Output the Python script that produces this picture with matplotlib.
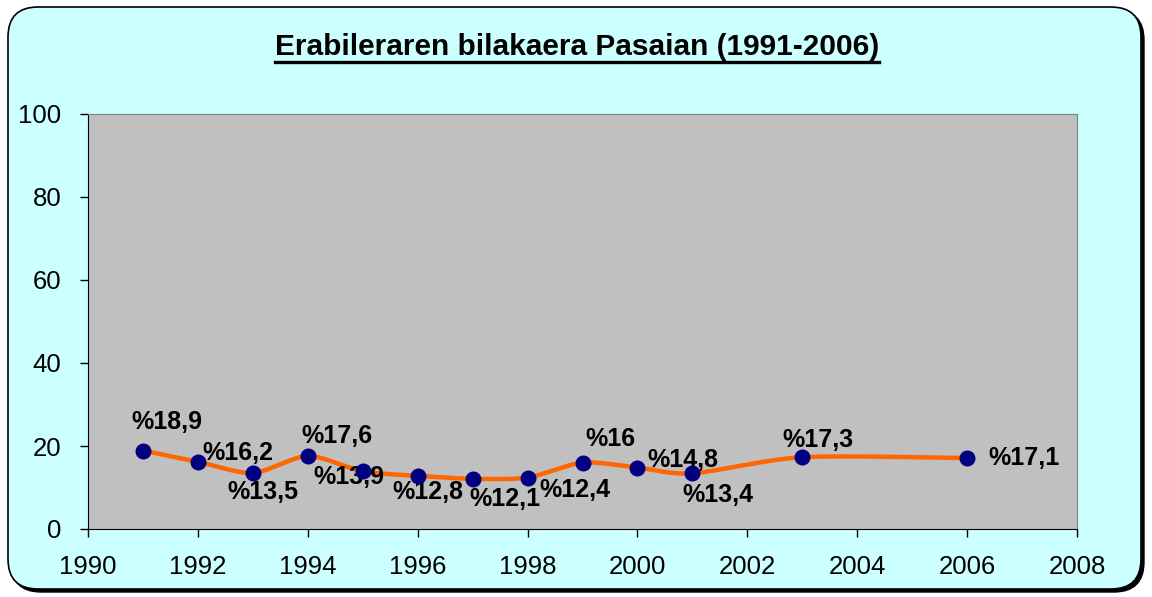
import numpy as np
import matplotlib
matplotlib.use('Agg')
import matplotlib.pyplot as plt
from matplotlib.patches import FancyBboxPatch
from matplotlib.lines import Line2D

plt.rcParams['font.family'] = ['Liberation Sans', 'DejaVu Sans']

years = [1991, 1992, 1993, 1994, 1995, 1996, 1997, 1998, 1999, 2000, 2001, 2003, 2006]
values = [18.9, 16.2, 13.5, 17.6, 13.9, 12.8, 12.1, 12.4, 16, 14.8, 13.4, 17.3, 17.1]
labels = ['%18,9', '%16,2', '%13,5', '%17,6', '%13,9', '%12,8', '%12,1',
          '%12,4', '%16', '%14,8', '%13,4', '%17,3', '%17,1']
title = 'Erabileraren bilakaera Pasaian (1991-2006)'

# label offsets in pixels (dx, dy), dy positive = up
offsets = [(24, 29), (40, 9), (10, -19), (29, 20), (-14, -6), (10, -16), (32, -20),
           (47, -12), (28, 24), (45, 8), (25, -22), (16, 17), (57, 0)]


def smooth(x, y, n=20, k=0.8):
    # cardinal spline through the points, in roughly screen-scaled space
    sc = 4.15 / 54.9
    P = np.column_stack([np.asarray(x, float), np.asarray(y, float) * sc])
    P = np.vstack([P[0], P, P[-1]])
    out = []
    t = np.linspace(0, 1, n)[:, None]
    h00 = 2 * t**3 - 3 * t**2 + 1
    h10 = t**3 - 2 * t**2 + t
    h01 = -2 * t**3 + 3 * t**2
    h11 = t**3 - t**2
    for i in range(1, len(P) - 2):
        p0, p1, p2, p3 = P[i - 1], P[i], P[i + 1], P[i + 2]
        m1 = 0.5 * k * (p2 - p0)
        m2 = 0.5 * k * (p3 - p1)
        out.append(h00 * p1 + h10 * m1 + h01 * p2 + h11 * m2)
    c = np.vstack(out)
    return c[:, 0], c[:, 1] / sc


fig = plt.figure(figsize=(11.52, 5.97), dpi=100)
fig.patch.set_facecolor('white')

# rounded chart area with shadow
W, H = 1152, 597
shadow = FancyBboxPatch((11, 5), 1133, 582, boxstyle='round,pad=0,rounding_size=30',
                        transform=None, facecolor='black', edgecolor='black', zorder=0)
box = FancyBboxPatch((8, 8), 1133, 582, boxstyle='round,pad=0,rounding_size=30',
                     transform=None, facecolor='#CCFFFF', edgecolor='black', linewidth=1.2, zorder=1)
fig.patches.extend([shadow, box])

ax = fig.add_axes([88 / W, 1 - 529 / H, (1077 - 88) / W, (529 - 114) / H])
ax.set_facecolor('#C0C0C0')
ax.set_zorder(2)

xs, ys = smooth(years, values)
ax.plot(xs, ys, color='#FF6600', linewidth=3.2, zorder=3, solid_capstyle='round')
ax.plot(years, values, linestyle='none', marker='o', markersize=10.5,
        markerfacecolor='#000080', markeredgecolor='#000080', zorder=5)

for x, y, lab, (dx, dy) in zip(years, values, labels, offsets):
    ax.annotate(lab, (x, y), xytext=(dx, dy), textcoords='offset pixels',
                ha='center', va='center', fontsize=18, fontweight='bold', color='black', zorder=4)

ax.set_xlim(1990, 2008)
ax.set_ylim(0, 100)
ax.set_xticks(range(1990, 2009, 2))
ax.set_yticks(range(0, 101, 20))
ax.tick_params(direction='out', length=6, width=1, labelsize=18.5, colors='black')
ax.tick_params(axis='x', pad=13)
ax.tick_params(axis='y', pad=13)
for s in ['top', 'right']:
    ax.spines[s].set_color('#808080')
for s in ['left', 'bottom']:
    ax.spines[s].set_color('black')

t = fig.text(577 / W, 1 - 47 / H, title, ha='center', va='center',
             fontsize=21.5, fontweight='bold')
fig.canvas.draw()
bb = t.get_window_extent()
fig.add_artist(Line2D([bb.x0 / W, bb.x1 / W], [(bb.y0 - 1) / H, (bb.y0 - 1) / H],
                      transform=fig.transFigure, color='black', linewidth=2.4))

fig.savefig('out.png', dpi=100)
